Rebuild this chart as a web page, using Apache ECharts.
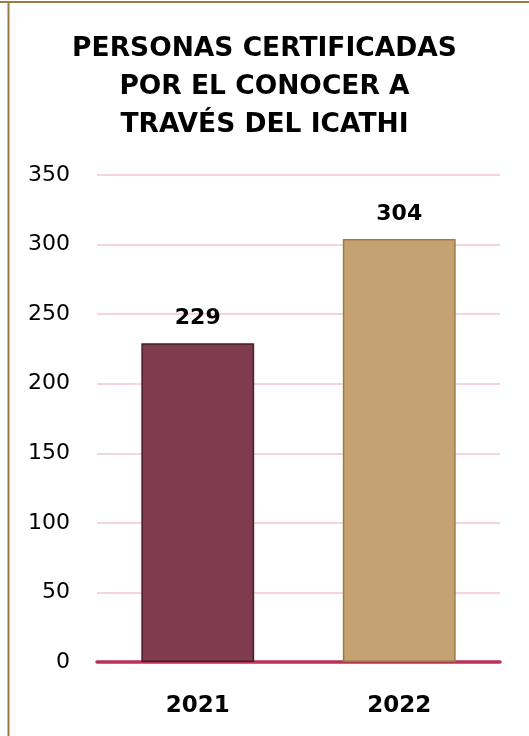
<!DOCTYPE html>
<html><head><meta charset="utf-8">
<script src="https://cdn.jsdelivr.net/npm/echarts@6/dist/echarts.min.js"></script>
<style>html,body{margin:0;padding:0;background:#fff}#c{width:529px;height:736px}</style>
</head><body><div id="c"></div>
<script>
const categories = ['2021', '2022'];
const values = [229, 304];
const barColors = ['#7f3c4e', '#c4a271'];
const barBorders = ['#4f1a29', '#9b7b45'];
const titleText = 'PERSONAS CERTIFICADAS\nPOR EL CONOCER A\nTRAVÉS DEL ICATHI';

const chart = echarts.init(document.getElementById('c'));
const font = 'DejaVu Sans';
chart.setOption({
  animation: false,
  backgroundColor: '#fff',
  graphic: [
    {type: 'line', shape: {x1: 0, y1: 2, x2: 529, y2: 2}, style: {stroke: '#9b7b45', lineWidth: 2}},
    {type: 'line', shape: {x1: 8.5, y1: 2, x2: 8.5, y2: 736}, style: {stroke: '#9b7b45', lineWidth: 2}}
  ],
  title: {
    text: titleText, left: 'center', top: 25,
    textStyle: {fontFamily: font, fontWeight: 'bold', fontSize: 26.5, lineHeight: 38, color: '#000'}
  },
  grid: {left: 97, right: 29, top: 175, bottom: 74},
  xAxis: {
    type: 'category', data: categories,
    axisLine: {lineStyle: {color: '#b83355', width: 3.5}},
    axisTick: {show: false},
    axisLabel: {fontFamily: font, fontWeight: 'bold', fontSize: 23, color: '#000', margin: 33}
  },
  yAxis: {
    type: 'value', min: 0, max: 350, interval: 50,
    axisLine: {show: false}, axisTick: {show: false},
    splitLine: {lineStyle: {color: '#f5d3df', width: 2}},
    axisLabel: {fontFamily: font, fontSize: 22, color: '#000', margin: 27}
  },
  series: [{
    type: 'bar', barWidth: '56%',
    data: values.map((v, i) => ({value: v, itemStyle: {color: barColors[i], borderColor: barBorders[i], borderWidth: 1.5}})),
    label: {show: true, position: 'top', distance: 14, fontFamily: font, fontWeight: 'bold', fontSize: 22, color: '#000'}
  }]
});
</script></body></html>
